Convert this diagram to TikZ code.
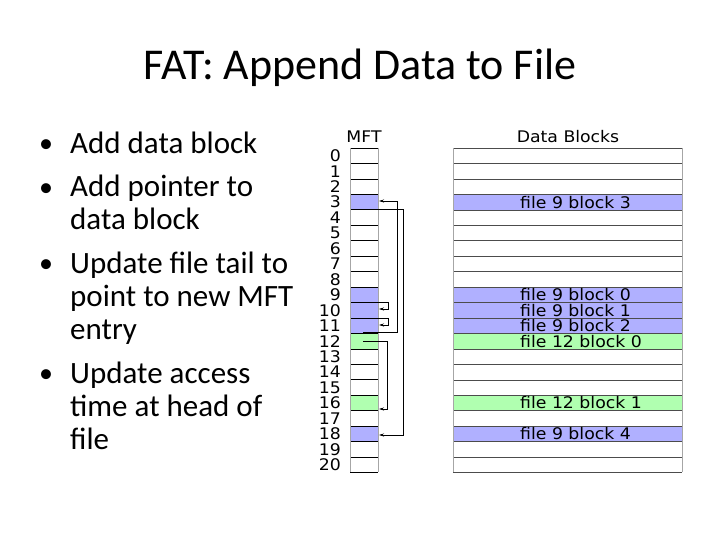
\documentclass[tikz,border=0pt]{standalone}
\usepackage{fontspec}
\setmainfont{Carlito}
\newfontfamily\lblfont[FakeStretch=1.08]{DejaVu Sans}
\usetikzlibrary{arrows.meta}
\definecolor{bl}{RGB}{176,176,255}
\definecolor{gr}{RGB}{176,255,176}
\begin{document}
\begin{tikzpicture}[x=1pt,y=-1pt,
  lbl/.style={font=\lblfont\fontsize{16}{16}\selectfont,inner sep=0pt},
  ptr/.style={-{Stealth[length=5pt,width=3pt]},line width=0.6pt}]
\useasboundingbox (0,0) rectangle (720,540);
\node[font=\fontsize{44}{44}\selectfont] (title) at (360,68) {FAT: Append Data to File};
\foreach \t/\y in {Add data block/147,Add pointer to/190.7,data block/223.7,Update file tail to/267.4,point to new MFT/300.4,entry/333.4,Update access/377,time at head of/410,file/443}{
  \node[anchor=west,inner sep=0pt,font=\fontsize{31}{31}\selectfont] at (70,\y) {\strut\t};}
\foreach \y in {147,190.7,267.4,377}{\node[font=\fontsize{28}{28}\selectfont,inner sep=0pt] at (46,\y) {\strut•};}
\def\top{148}\def\h{15.45}
\node[lbl] (mft) at (364,137) {MFT};
\node[lbl] (db) at (568,137) {Data Blocks};
\foreach \r/\c in {3/bl,9/bl,10/bl,11/bl,12/gr,16/gr,18/bl}{
  \fill[\c] (350,{\top+\r*\h}) rectangle (378,{\top+(\r+1)*\h});
  \fill[\c] (453,{\top+\r*\h}) rectangle (682,{\top+(\r+1)*\h});}
\foreach \r in {0,...,21}{
  \draw[line width=0.7pt] (350,{\top+\r*\h}) -- (378,{\top+\r*\h});
  \draw[line width=0.5pt,black!70] (453,{\top+\r*\h}) -- (682,{\top+\r*\h});}
\draw[gray!70] (350,\top) -- (350,{\top+21*\h}) (378,\top) -- (378,{\top+21*\h});
\draw[gray!70] (453,\top) -- (453,{\top+21*\h}) (682,\top) -- (682,{\top+21*\h});
\foreach \r in {0,...,20}{\node[lbl,anchor=east] at (341,{\top+(\r+0.5)*\h}) {\r};}
\foreach \r/\t in {3/file 9 block 3,9/file 9 block 0,10/file 9 block 1,11/file 9 block 2,12/file 12 block 0,16/file 12 block 1,18/file 9 block 4}{
  \node[lbl,anchor=west] at (520,{\top+(\r+0.5)*\h}) {\t};}
\coordinate (s3) at (367,209); \coordinate (e18) at (379,435);
\draw[ptr] (s3) -| (403,435) -- (e18);
\coordinate (s11) at (363,332); \coordinate (e3) at (379,201);
\draw[ptr] (s11) -| (397,201) -- (e3);
\coordinate (s9) at (363,302); \coordinate (e10) at (379,309);
\draw[ptr] (s9) -| (388,309) -- (e10);
\coordinate (s10) at (363,318); \coordinate (e11) at (379,325);
\draw[ptr] (s10) -| (388,325) -- (e11);
\coordinate (s12) at (363,341); \coordinate (e16) at (379,409);
\draw[ptr] (s12) -| (387,409) -- (e16);
\end{tikzpicture}
\end{document}
